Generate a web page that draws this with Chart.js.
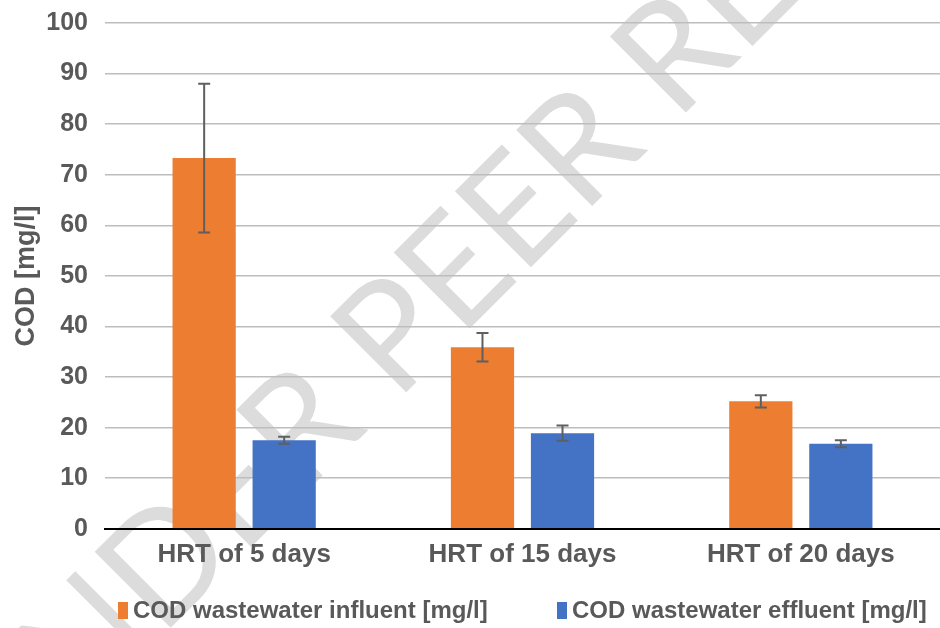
<!DOCTYPE html>
<html>
<head>
<meta charset="utf-8">
<script src="https://cdn.jsdelivr.net/npm/chart.js@4.4.0/dist/chart.umd.min.js"></script>
<style>
  html, body { margin: 0; padding: 0; background: #fff; overflow: hidden; }
  #wrap { position: relative; width: 940px; height: 628px; overflow: hidden; }
  #plot { position: absolute; left: 0; top: -9px; width: 940px; height: 637px; }
  #legend {
    position: absolute; left: 0; top: 595px; width: 940px;
    font: bold 24px 'Liberation Sans', Arial, sans-serif; color: #595959;
  }
  #legend span { position: absolute; white-space: nowrap; line-height: 30px; }
  #legend i { display: inline-block; width: 10px; height: 17px; margin-right: 5px; vertical-align: -1px; }
</style>
</head>
<body>
<div id="wrap">
  <div id="plot"><canvas id="codChart"></canvas></div>
  <div id="legend"></div>
</div>
<script>
// Values
const categories = ["HRT of 5 days", "HRT of 15 days", "HRT of 20 days"];
const seriesNames = ["COD wastewater influent [mg/l]", "COD wastewater effluent [mg/l]"];
const influent = [73.3, 35.9, 25.2];
const influentErr = [14.7, 2.8, 1.2];
const effluent = [17.5, 18.9, 16.8];
const effluentErr = [0.7, 1.5, 0.7];
const yTicks = [0, 10, 20, 30, 40, 50, 60, 70, 80, 90, 100];
const colors = ["#ED7D31", "#4472C4"];

const textGray = "#595959";
const font = "'Liberation Sans', Arial, sans-serif";

// Faint diagonal watermark, drawn under the grid
const watermark = {
    id: "watermark",
    beforeDraw(chart) {
        const ctx = chart.ctx;
        ctx.save();
        ctx.translate(505, 234);
        ctx.rotate(-Math.PI / 4);
        ctx.fillStyle = "#dcdcdc";
        ctx.font = "400 150px Lato, 'Open Sans', sans-serif";
        ctx.textAlign = "center";
        ctx.textBaseline = "middle";
        ctx.fillText("UNDER PEER REVIEW", 0, 0);
        ctx.restore();
    }
};

// Error bars with caps
const errorBars = {
    id: "errorBars",
    afterDatasetsDraw(chart) {
        const ctx = chart.ctx;
        const y = chart.scales.y;
        const errs = [influentErr, effluentErr];
        ctx.save();
        ctx.strokeStyle = "#5f5f5f";
        ctx.lineWidth = 2;
        chart.data.datasets.forEach((ds, i) => {
            chart.getDatasetMeta(i).data.forEach((bar, j) => {
                const v = ds.data[j], e = errs[i][j];
                const top = y.getPixelForValue(v + e);
                const bot = y.getPixelForValue(v - e);
                ctx.beginPath();
                ctx.moveTo(bar.x, top); ctx.lineTo(bar.x, bot);
                ctx.moveTo(bar.x - 6, top); ctx.lineTo(bar.x + 6, top);
                ctx.moveTo(bar.x - 6, bot); ctx.lineTo(bar.x + 6, bot);
                ctx.stroke();
            });
        });
        ctx.restore();
    }
};

new Chart(document.getElementById("codChart"), {
    type: "bar",
    data: {
        labels: categories,
        datasets: [{
            label: seriesNames[0],
            data: influent,
            backgroundColor: colors[0],
            categoryPercentage: 0.575,
            barPercentage: 0.79
        }, {
            label: seriesNames[1],
            data: effluent,
            backgroundColor: colors[1],
            categoryPercentage: 0.575,
            barPercentage: 0.79
        }]
    },
    options: {
        responsive: true,
        maintainAspectRatio: false,
        animation: false,
        layout: { padding: { top: 0, right: 0, left: 0, bottom: 56 } },
        plugins: {
            tooltip: { enabled: false },
            legend: { display: false }
        },
        scales: {
            x: {
                grid: { display: false },
                border: { display: true, color: "#000", width: 2 },
                ticks: {
                    color: textGray,
                    font: { family: font, size: 26, weight: "bold" },
                    padding: 2
                }
            },
            y: {
                min: 0,
                max: 100,
                afterBuildTicks(scale) { scale.ticks = yTicks.map(v => ({ value: v })); },
                afterFit(scale) { scale.width = 105; },
                grid: { color: "#bdbdbd", lineWidth: 1.5, drawTicks: false },
                border: { display: false },
                ticks: {
                    color: textGray,
                    font: { family: font, size: 25, weight: "bold" },
                    padding: 17
                },
                title: {
                    display: true,
                    text: "COD [mg/l]",
                    color: textGray,
                    font: { family: font, size: 27, weight: "bold" },
                    padding: { top: 10, bottom: 0 }
                }
            }
        }
    },
    plugins: [watermark, errorBars]
});

// Legend below the plot, as in the figure
const legendX = [118, 557];
const legend = document.getElementById("legend");
seriesNames.forEach((name, i) => {
    const item = document.createElement("span");
    item.style.left = legendX[i] + "px";
    item.innerHTML = '<i style="background:' + colors[i] + '"></i>' + name;
    legend.appendChild(item);
});
</script>
</body>
</html>
